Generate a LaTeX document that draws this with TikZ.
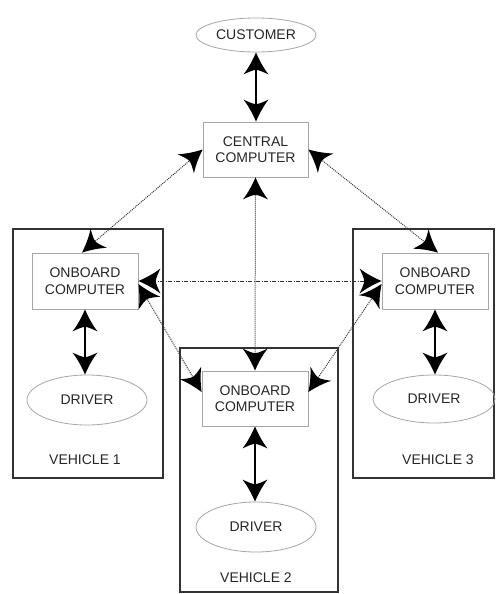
\documentclass[tikz,border=0pt]{standalone}
\usepackage{fontspec}
\setmainfont{Liberation Sans}
\usetikzlibrary{arrows.meta,shapes.geometric}

% Large dart-shaped arrow head with slightly concave flanks
\pgfdeclarearrow{
  name = Dart,
  setup code = {
    \pgfarrowssettipend{0pt}
    \pgfarrowssetbackend{-22pt}
    \pgfarrowssetlineend{-14pt}
    \pgfarrowsupperhullpoint{0pt}{0pt}
    \pgfarrowsupperhullpoint{-22pt}{12.5pt}
  },
  drawing code = {
    \pgfpathmoveto{\pgfpointorigin}
    \pgfpathcurveto{\pgfpoint{-7pt}{3pt}}{\pgfpoint{-15pt}{7pt}}{\pgfpoint{-22pt}{12.5pt}}
    \pgfpathcurveto{\pgfpoint{-19.5pt}{7pt}}{\pgfpoint{-17.5pt}{3pt}}{\pgfpoint{-17.5pt}{0pt}}
    \pgfpathcurveto{\pgfpoint{-17.5pt}{-3pt}}{\pgfpoint{-19.5pt}{-7pt}}{\pgfpoint{-22pt}{-12.5pt}}
    \pgfpathcurveto{\pgfpoint{-15pt}{-7pt}}{\pgfpoint{-7pt}{-3pt}}{\pgfpointorigin}
    \pgfpathclose
    \pgfusepathqfill
  }
}

\tikzset{
  label/.style={font=\fontsize{14}{16.5}\selectfont, text=black!85, align=center, inner sep=0pt},
  comp/.style={label, draw=black!35, line width=0.8pt, minimum width=106pt, minimum height=55pt},
  person/.style={label, ellipse, draw=black!35, line width=0.8pt, minimum width=120pt, minimum height=50pt},
  vehicle/.style={draw=black!80, line width=1.3pt},
  solidlink/.style={Dart-Dart, line width=1.5pt, black},
  dotlink/.style={{Dart[color=black]}-{Dart[color=black]}, line width=1pt, black!80, dash pattern=on 1pt off 1pt},
  dashdotlink/.style={{Dart[color=black]}-{Dart[color=black]}, line width=1pt, black!80, dash pattern=on 4pt off 1.5pt on 1pt off 1.5pt}
}

\begin{document}
\begin{tikzpicture}[x=1pt,y=1pt]
  \useasboundingbox (0,0) rectangle (496,-594);

  % vehicle frames
  \draw[vehicle] (13,-229) rectangle (163,-478);
  \draw[vehicle] (180,-348) rectangle (338,-592);
  \draw[vehicle] (353,-229) rectangle (494,-478);

  % people and computers
  \node[person, minimum height=34pt] (cust) at (256,-35) {CUSTOMER};
  \node[comp, minimum width=105pt] (cc) at (255.5,-149.5) {CENTRAL\\COMPUTER};

  \node[comp, minimum height=56pt] (ob1) at (85,-281) {ONBOARD\\COMPUTER};
  \node[comp] (ob2) at (255,-398.5) {ONBOARD\\COMPUTER};
  \node[comp, minimum height=56pt] (ob3) at (435,-281) {ONBOARD\\COMPUTER};

  \node[person] (dr1) at (87,-400) {DRIVER};
  \node[person] (dr2) at (256,-527) {DRIVER};
  \node[person, minimum width=122pt, minimum height=48pt] (dr3) at (434,-399) {DRIVER};

  % vehicle captions
  \node[label] (v1) at (85,-460) {VEHICLE 1};
  \node[label] (v2) at (256,-578) {VEHICLE 2};
  \node[label] (v3) at (438,-460) {VEHICLE 3};

  % wired links
  \draw[solidlink] (cust.south) -- (cust.south |- cc.north);
  \draw[solidlink] (ob1.south) -- (ob1.south |- dr1.north);
  \draw[solidlink] (ob2.south) -- (ob2.south |- dr2.north);
  \draw[solidlink] (ob3.south) -- (ob3.south |- dr3.north);

  % wireless links
  \draw[dotlink] (cc.west) -- ([xshift=-3pt]ob1.north);
  \draw[dotlink] (cc.east) -- ([xshift=3pt]ob3.north);
  \draw[dotlink] (cc.south) -- (ob2.north);
  \draw[dashdotlink] (ob1.east) -- (ob3.west);
  \draw[dotlink] ([yshift=-3pt]ob1.east) -- ([yshift=6.5pt]ob2.west);
  \draw[dotlink] ([yshift=-3pt]ob3.west) -- ([yshift=6.5pt]ob2.east);
\end{tikzpicture}
\end{document}
